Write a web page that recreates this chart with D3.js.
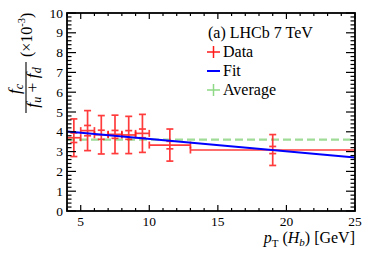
<!DOCTYPE html>
<html>
<head>
<meta charset="utf-8">
<script src="https://cdn.jsdelivr.net/npm/d3@7"></script>
<style>
body { margin:0; background:#fff; }
svg { display:block; font-family:"Liberation Serif","DejaVu Serif",serif; }
</style>
</head>
<body>
<svg id="chart" width="374" height="253"></svg>
<script>
// bins in pT (GeV)
var binLo  = [4, 5, 6, 7, 8, 9, 10, 13];
var binHi  = [5, 6, 7, 8, 9, 10, 13, 25];
var binMid = [4.5, 5.5, 6.5, 7.5, 8.5, 9.5, 11.5, 19];
// fc/(fu+fd) x 1e-3
var ratio   = [3.70, 4.06, 3.85, 3.87, 3.84, 3.92, 3.33, 3.08];
var statErr = [0.24, 0.26, 0.23, 0.20, 0.22, 0.22, 0.19, 0.18];
var totErr  = [0.95, 1.01, 0.97, 0.97, 0.94, 0.96, 0.81, 0.78];
// linear fit and average
var fitX = [4, 25];
var fitY = [4.02, 2.70];
var average = 3.60;

var xTicks = [5, 10, 15, 20, 25];
var yTicks = [0, 1, 2, 3, 4, 5, 6, 7, 8, 9, 10];

var margins = {left:67, right:19, top:13, bottom:42};
var screen = {width:374, height:253};
var graph = {
    width: screen.width - margins.left - margins.right,
    height: screen.height - margins.top - margins.bottom
};

var svg = d3.select("#chart");

var xScale = d3.scaleLinear().domain([4, 25]).range([0, graph.width]);
var yScale = d3.scaleLinear().domain([0, 10]).range([graph.height, 0]);

var target = svg.append("g")
    .attr("transform", "translate(" + margins.left + "," + margins.top + ")");

svg.append("clipPath").attr("id", "clip")
    .append("rect").attr("width", graph.width).attr("height", graph.height);

var plot = target.append("g").attr("clip-path", "url(#clip)");

// average (dashed green)
plot.append("line")
    .attr("x1", xScale(4)).attr("x2", xScale(25))
    .attr("y1", yScale(average)).attr("y2", yScale(average))
    .attr("stroke", "#9fdc98").attr("stroke-width", 2.2)
    .attr("stroke-dasharray", "8,4");

// data points
var red = "#ff1a1a";
var pts = plot.selectAll("g.pt")
    .data(d3.range(ratio.length))
    .enter().append("g")
    .attr("stroke", red).attr("stroke-width", 1.7).attr("opacity", 0.85);

var cap = 3.5;
pts.append("line")
    .attr("x1", function(i){ return xScale(binLo[i]); })
    .attr("x2", function(i){ return xScale(binHi[i]); })
    .attr("y1", function(i){ return yScale(ratio[i]); })
    .attr("y2", function(i){ return yScale(ratio[i]); });
[binLo, binHi].forEach(function(arr){
    pts.append("line")
        .attr("x1", function(i){ return xScale(arr[i]); })
        .attr("x2", function(i){ return xScale(arr[i]); })
        .attr("y1", function(i){ return yScale(ratio[i]) - cap; })
        .attr("y2", function(i){ return yScale(ratio[i]) + cap; });
});
pts.append("line")
    .attr("x1", function(i){ return xScale(binMid[i]); })
    .attr("x2", function(i){ return xScale(binMid[i]); })
    .attr("y1", function(i){ return yScale(ratio[i] + totErr[i]); })
    .attr("y2", function(i){ return yScale(ratio[i] - totErr[i]); });
[1, -1].forEach(function(s){
    [totErr, statErr].forEach(function(err){
        pts.append("line")
            .attr("x1", function(i){ return xScale(binMid[i]) - cap; })
            .attr("x2", function(i){ return xScale(binMid[i]) + cap; })
            .attr("y1", function(i){ return yScale(ratio[i] + s * err[i]); })
            .attr("y2", function(i){ return yScale(ratio[i] + s * err[i]); });
    });
});

// fit line
plot.append("path")
    .datum(d3.zip(fitX, fitY))
    .attr("fill", "none").attr("stroke", "#0000ff").attr("stroke-width", 2)
    .attr("d", d3.line()
        .x(function(d){ return xScale(d[0]); })
        .y(function(d){ return yScale(d[1]); }));

// axes: ticks inside on all four sides
var axes = target.append("g").attr("stroke", "#000").attr("stroke-width", 1.2);
var xMinor = d3.range(4, 25.01, 1);
var yMinor = d3.range(0, 10.01, 0.2);
xMinor.forEach(function(v){
    var len = (xTicks.indexOf(v) >= 0) ? 6 : 3;
    axes.append("line").attr("x1", xScale(v)).attr("x2", xScale(v))
        .attr("y1", graph.height).attr("y2", graph.height - len);
    axes.append("line").attr("x1", xScale(v)).attr("x2", xScale(v))
        .attr("y1", 0).attr("y2", len);
});
yMinor.forEach(function(v){
    var major = Math.abs(v - Math.round(v)) < 1e-6;
    var len = major ? 9 : 4.5;
    axes.append("line").attr("y1", yScale(v)).attr("y2", yScale(v))
        .attr("x1", 0).attr("x2", len);
    axes.append("line").attr("y1", yScale(v)).attr("y2", yScale(v))
        .attr("x1", graph.width).attr("x2", graph.width - len);
});
target.append("rect")
    .attr("width", graph.width).attr("height", graph.height)
    .attr("fill", "none").attr("stroke", "#000").attr("stroke-width", 1.8);

// tick labels
var labels = target.append("g").attr("font-size", 13.5).attr("fill", "#000");
labels.selectAll("text.xt").data(xTicks).enter().append("text")
    .attr("text-anchor", "middle")
    .attr("x", function(d){ return xScale(d); })
    .attr("y", graph.height + 15)
    .text(function(d){ return d; });
labels.selectAll("text.yt").data(yTicks).enter().append("text")
    .attr("text-anchor", "end")
    .attr("x", -4)
    .attr("y", function(d){ return yScale(d) + 4.6; })
    .text(function(d){ return d; });

// x title
var xt = svg.append("text")
    .attr("text-anchor", "end")
    .attr("x", margins.left + graph.width)
    .attr("y", 243)
    .attr("font-size", 16);
xt.append("tspan").attr("font-style", "italic").text("p");
xt.append("tspan").attr("font-size", 11).attr("dy", 4).text("T");
xt.append("tspan").attr("dy", -4).text(" (");
xt.append("tspan").attr("font-style", "italic").text("H");
xt.append("tspan").attr("font-style", "italic").attr("font-size", 11).attr("dy", 3).text("b");
xt.append("tspan").attr("dy", -3).text(") [GeV]");

// y title (rotated fraction)
var yt = svg.append("g").attr("transform", "translate(0,113) rotate(-90)")
    .attr("font-size", 17.5);
var num = yt.append("text").attr("text-anchor", "middle").attr("x", 24).attr("y", 20);
num.append("tspan").attr("font-style", "italic").text("f");
num.append("tspan").attr("font-style", "italic").attr("font-size", 12).attr("dy", 3).text("c");
yt.append("line").attr("x1", 0).attr("x2", 51).attr("y1", 26).attr("y2", 26)
    .attr("stroke", "#000").attr("stroke-width", 1.1);
var den = yt.append("text").attr("text-anchor", "middle").attr("x", 25.5).attr("y", 38);
den.append("tspan").attr("font-style", "italic").text("f");
den.append("tspan").attr("font-style", "italic").attr("font-size", 12).attr("dy", 3).text("u");
den.append("tspan").attr("dy", -3).text(" + ");
den.append("tspan").attr("font-style", "italic").text("f");
den.append("tspan").attr("font-style", "italic").attr("font-size", 12).attr("dy", 3).text("d");
var sc = yt.append("text").attr("x", 56).attr("y", 32).attr("font-size", 16);
sc.append("tspan").text("(\u00d710");
sc.append("tspan").attr("font-size", 10.5).attr("dy", -7).text("-3");
sc.append("tspan").attr("dy", 7).text(")");

// legend
var legend = svg.append("g").attr("font-size", 16);
legend.append("text").attr("x", 208).attr("y", 38).text("(a) LHCb 7 TeV");
var legItems = ["Data", "Fit", "Average"];
var legColors = [red, "#0000ff", "#8ed886"];
legItems.forEach(function(name, i){
    var cy = 52 + i * 19;
    var g = legend.append("g");
    g.append("line").attr("x1", 207).attr("x2", 220).attr("y1", cy).attr("y2", cy)
        .attr("stroke", legColors[i]).attr("stroke-width", i == 1 ? 2 : 1.5);
    if (i != 1) {
        g.append("line").attr("x1", 213.5).attr("x2", 213.5).attr("y1", cy - 6).attr("y2", cy + 6)
            .attr("stroke", legColors[i]).attr("stroke-width", 1.5);
    }
    g.append("text").attr("x", 223).attr("y", cy + 5).text(name);
});
</script>
</body>
</html>
